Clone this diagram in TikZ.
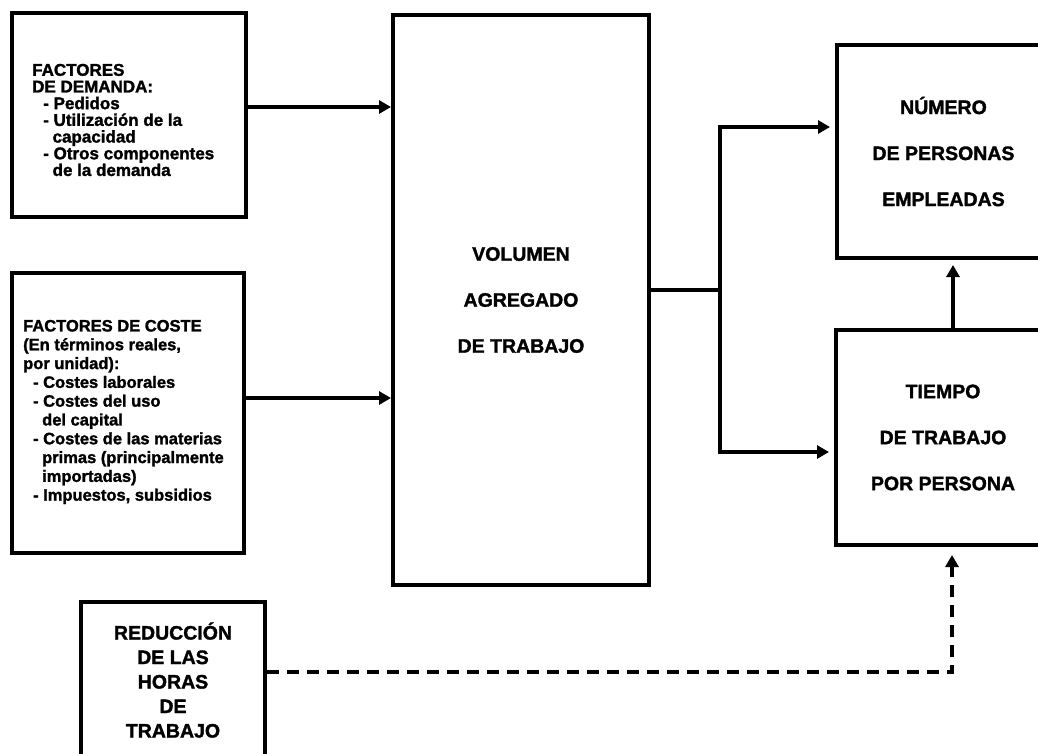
\documentclass[tikz,border=0pt]{standalone}
\usepackage{fontspec}
\setmainfont{Liberation Sans}[BoldFeatures={FakeBold=1.6}]
\usetikzlibrary{arrows.meta}

\tikzset{
  box/.style={draw, line width=4pt, line join=miter, inner sep=0pt, align=center,
    font=\bfseries\fontsize{19.5}{46}\selectfont},
  listtext/.style={inner sep=0pt, align=left, anchor=west},
  link/.style={line width=3.5pt, -{Triangle[length=12pt,width=13pt]}},
  dashlink/.style={line width=4pt, dash pattern=on 12pt off 8pt,
    -{Triangle[length=12pt,width=13pt]}},
}

\begin{document}
\begin{tikzpicture}[x=1pt,y=-1pt]
\useasboundingbox (0,0) rectangle (1038,753);
% boxes
\node[box, minimum width=234pt, minimum height=204pt] (demanda) at (129,115){};
\node[box, minimum width=232pt, minimum height=280pt] (coste) at (128,413){};
\node[box, minimum width=256pt, minimum height=570pt] (volumen) at (521,300){VOLUMEN\\AGREGADO\\DE TRABAJO};
\node[box, minimum width=213pt, minimum height=213pt] (numero) at (943.5,151.5){NÚMERO\\DE PERSONAS\\EMPLEADAS};
\node[box, minimum width=214pt, minimum height=215pt] (tiempo) at (943,437.5){TIEMPO\\DE TRABAJO\\POR PERSONA};
\node[box, minimum width=184pt, minimum height=156pt, font=\bfseries\fontsize{19.5}{24.5}\selectfont] (reduccion) at (173,680){REDUCCIÓN\\DE LAS\\HORAS\\DE\\TRABAJO};
% texts of the two factor boxes
\node[listtext, font=\bfseries\fontsize{17}{16.7}\selectfont] (demandatxt) at (32,120){FACTORES\\
DE DEMANDA:\\
\hspace*{0.65em}- Pedidos\\
\hspace*{0.65em}- Utilización de la\\
\hspace*{1.2em}capacidad\\
\hspace*{0.65em}- Otros componentes\\
\hspace*{1.2em}de la demanda};
\node[listtext, font=\bfseries\fontsize{16.5}{18.8}\selectfont] (costetxt) at (23,412){FACTORES DE COSTE\\
(En términos reales,\\
por unidad):\\
\hspace*{0.6em}- Costes laborales\\
\hspace*{0.6em}- Costes del uso\\
\hspace*{1.15em}del capital\\
\hspace*{0.6em}- Costes de las materias\\
\hspace*{1.15em}primas (principalmente\\
\hspace*{1.15em}importadas)\\
\hspace*{0.6em}- Impuestos, subsidios};
% helper points
\coordinate (split) at (720,290);
\coordinate (upx) at (953,0);
\coordinate (corner) at (952,672);
% connectors
\draw[link] (demanda.east |- 0,107) -- (volumen.west |- 0,107);
\draw[link] (coste.east |- 0,398) -- (volumen.west |- 0,398);
\draw[line width=3.5pt] (volumen.east |- split) -- (split);
\draw[link, shorten >=5pt] (split) |- (numero.west |- 0,127);
\draw[link, shorten >=5pt] (split) |- (tiempo.west |- 0,452);
\draw[link, shorten >=5pt] (tiempo.north -| upx) -- (numero.south -| upx);
\draw[dashlink, shorten >=8pt] (reduccion.east |- corner) -| (tiempo.south -| corner);
\end{tikzpicture}
\end{document}
